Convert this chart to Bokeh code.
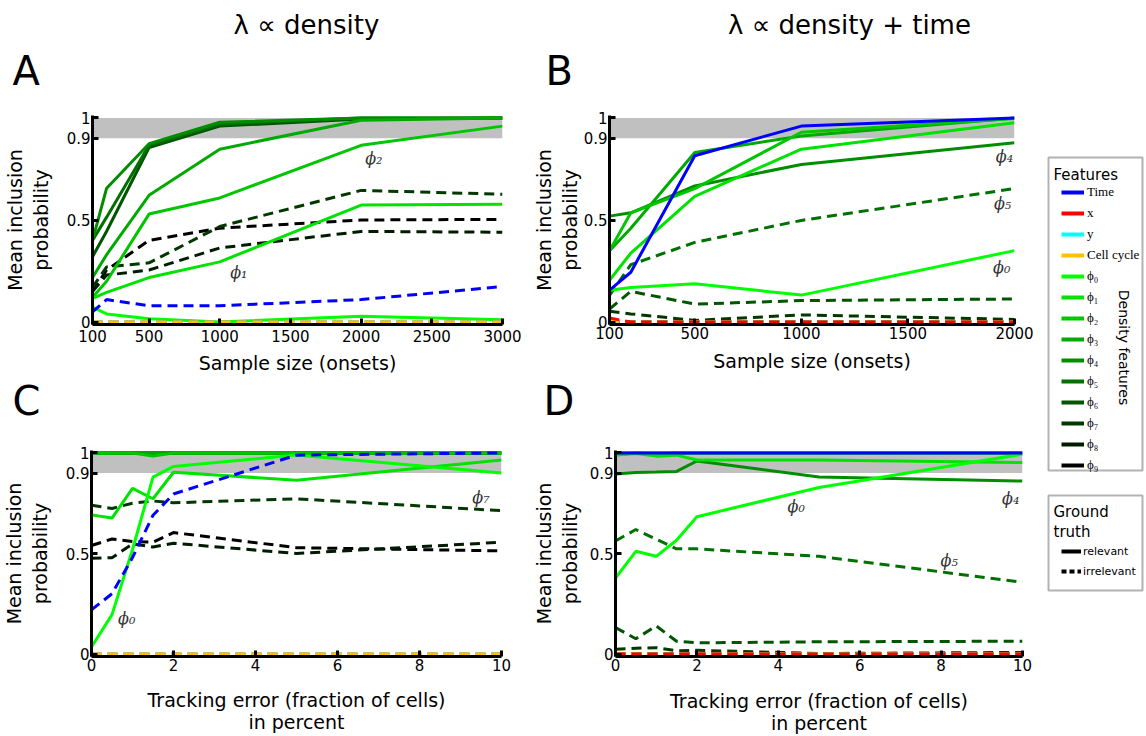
import math
from bokeh.plotting import figure
from bokeh.models import Range1d, FixedTicker, BoxAnnotation, Label, Legend, LegendItem
from bokeh.layouts import row, column
from bokeh.embed import file_html
from bokeh.resources import INLINE

# ---------------- data ----------------
sample_sizes_A = [100, 200, 500, 1000, 2000, 3000]
sample_sizes_B = [100, 200, 500, 1000, 2000]
tracking_error = [0, 0.5, 1, 1.5, 2, 5, 10]

x_ticks_A = [100, 500, 1000, 1500, 2000, 2500, 3000]
x_ticks_B = [100, 500, 1000, 1500, 2000]
x_ticks_CD = [0, 2, 4, 6, 8, 10]
y_ticks = [0, 0.5, 0.9, 1]
y_tick_labels = ["0", "0.5", "0.9", "1"]

feature_keys = ["Time", "x", "y", "cc", "phi0", "phi1", "phi2", "phi3", "phi4",
                "phi5", "phi6", "phi7", "phi8", "phi9"]
feature_labels = ["Time", "x", "y", "Cell cycle", "ϕ₀", "ϕ₁", "ϕ₂", "ϕ₃", "ϕ₄",
                  "ϕ₅", "ϕ₆", "ϕ₇", "ϕ₈", "ϕ₉"]
feature_colors = ["#0000ff", "#ff0000", "#00ffff", "#ffc000", "#00ff00", "#00e300",
                  "#00c600", "#00aa00", "#008e00", "#007100", "#005500", "#003900",
                  "#001c00", "#000000"]

relevant_density = ["phi0", "phi1", "phi2", "phi3", "phi4", "phi5", "phi6"]
relevant_density_time = ["Time", "phi0", "phi1", "phi2", "phi3", "phi4"]

# Panel A: lambda ~ density, vs sample size
A_Time = [0.05, 0.11, 0.08, 0.08, 0.11, 0.174]
A_x = [0, 0, 0, 0, 0, 0]
A_y = [0, 0, 0, 0, 0, 0]
A_cc = [0, 0, 0, 0, 0, 0]
A_phi0 = [0.073, 0.04, 0.016, 0.0, 0.029, 0.011]
A_phi1 = [0.116, 0.145, 0.218, 0.295, 0.573, 0.577]
A_phi2 = [0.121, 0.2, 0.529, 0.608, 0.866, 0.96]
A_phi3 = [0.218, 0.33, 0.621, 0.847, 0.989, 1.0]
A_phi4 = [0.40, 0.656, 0.874, 0.979, 1.0, 1.0]
A_phi5 = [0.40, 0.514, 0.866, 0.97, 1.0, 1.0]
A_phi6 = [0.32, 0.445, 0.855, 0.96, 0.995, 1.0]
A_phi7 = [0.17, 0.27, 0.29, 0.468, 0.645, 0.626]
A_phi8 = [0.15, 0.23, 0.255, 0.363, 0.444, 0.44]
A_phi9 = [0.15, 0.255, 0.40, 0.46, 0.50, 0.503]

# Panel B: lambda ~ density + time, vs sample size
B_Time = [0.156, 0.244, 0.815, 0.96, 1.0]
B_x = [0.02, 0, 0, 0, 0]
B_y = [0, 0, 0, 0, 0]
B_cc = [0.008, 0, 0, 0, 0]
B_phi0 = [0.156, 0.169, 0.188, 0.132, 0.35]
B_phi1 = [0.204, 0.338, 0.616, 0.847, 0.977]
B_phi2 = [0.349, 0.535, 0.654, 0.93, 0.997]
B_phi3 = [0.349, 0.46, 0.831, 0.912, 1.0]
B_phi4 = [0.519, 0.535, 0.667, 0.772, 0.879]
B_phi5 = [0.13, 0.281, 0.39, 0.498, 0.654]
B_phi6 = [0.064, 0.15, 0.088, 0.105, 0.113]
B_phi7 = [0.053, 0.04, 0.008, 0.035, 0.013]
B_phi8 = [0, 0, 0, 0, 0]
B_phi9 = [0, 0, 0, 0, 0]

# Panel C: lambda ~ density, vs tracking error
C_Time = [0.22, 0.30, 0.48, 0.69, 0.796, 0.989, 1.0]
C_x = [0, 0, 0, 0, 0, 0, 0]
C_y = [0, 0, 0, 0, 0, 0, 0]
C_cc = [0, 0, 0, 0, 0, 0, 0]
C_phi0 = [0.035, 0.196, 0.52, 0.88, 0.933, 0.99, 0.9]
C_phi1 = [0.692, 0.676, 0.824, 0.772, 0.904, 0.864, 0.965]
C_phi2 = [1.0, 1.0, 1.0, 0.984, 1.0, 1.0, 1.0]
C_phi3 = [1.0, 1.0, 1.0, 1.0, 1.0, 1.0, 1.0]
C_phi4 = [1.0, 1.0, 1.0, 1.0, 1.0, 1.0, 1.0]
C_phi5 = [1.0, 1.0, 1.0, 1.0, 1.0, 1.0, 1.0]
C_phi6 = [1.0, 1.0, 1.0, 1.0, 1.0, 1.0, 1.0]
C_phi7 = [0.74, 0.724, 0.75, 0.761, 0.752, 0.772, 0.713]
C_phi8 = [0.476, 0.479, 0.548, 0.532, 0.551, 0.5, 0.556]
C_phi9 = [0.54, 0.572, 0.56, 0.556, 0.604, 0.529, 0.513]

# Panel D: lambda ~ density + time, vs tracking error
D_Time = [1.0, 1.0, 1.0, 1.0, 1.0, 1.0, 1.0]
D_x = [0, 0, 0, 0, 0, 0, 0]
D_y = [0, 0, 0, 0, 0, 0, 0]
D_cc = [0, 0, 0, 0, 0, 0, 0]
D_phi0 = [0.378, 0.511, 0.486, 0.566, 0.683, 0.828, 0.994]
D_phi1 = [0.989, 0.997, 0.984, 0.989, 0.965, 0.965, 0.952]
D_phi2 = [0.99, 1.0, 0.995, 1.0, 1.0, 1.0, 1.0]
D_phi3 = [1.0, 1.0, 1.0, 1.0, 1.0, 1.0, 1.0]
D_phi4 = [0.895, 0.903, 0.905, 0.908, 0.96, 0.88, 0.86]
D_phi5 = [0.563, 0.619, 0.571, 0.523, 0.523, 0.486, 0.357]
D_phi6 = [0.132, 0.076, 0.14, 0.064, 0.056, 0.061, 0.064]
D_phi7 = [0.024, 0.029, 0.032, 0.016, 0.019, 0.003, 0.008]
D_phi8 = [0, 0, 0, 0, 0, 0, 0]
D_phi9 = [0, 0, 0, 0, 0, 0, 0]

order_density = ["phi9", "phi8", "phi7", "phi6", "phi5", "phi4", "phi3", "phi2",
                 "phi1", "phi0", "x", "y", "cc", "Time"]
order_density_time = ["phi9", "phi8", "phi7", "phi6", "phi5", "phi4", "phi3", "phi2",
                      "phi1", "phi0", "y", "cc", "x", "Time"]

A_data = dict(zip(feature_keys, [A_Time, A_x, A_y, A_cc, A_phi0, A_phi1, A_phi2, A_phi3,
                                 A_phi4, A_phi5, A_phi6, A_phi7, A_phi8, A_phi9]))
B_data = dict(zip(feature_keys, [B_Time, B_x, B_y, B_cc, B_phi0, B_phi1, B_phi2, B_phi3,
                                 B_phi4, B_phi5, B_phi6, B_phi7, B_phi8, B_phi9]))
C_data = dict(zip(feature_keys, [C_Time, C_x, C_y, C_cc, C_phi0, C_phi1, C_phi2, C_phi3,
                                 C_phi4, C_phi5, C_phi6, C_phi7, C_phi8, C_phi9]))
D_data = dict(zip(feature_keys, [D_Time, D_x, D_y, D_cc, D_phi0, D_phi1, D_phi2, D_phi3,
                                 D_phi4, D_phi5, D_phi6, D_phi7, D_phi8, D_phi9]))
COLORS = dict(zip(feature_keys, feature_colors))

BAND = "#c0c0c0"
SANS = "DejaVu Sans"
SERIF = "DejaVu Serif"
NAN = float("nan")


def make_panel(xs, data, relevant, order, xr, xticks, xlabel, geom, ylab_standoff,
               xtick_standoff, xlab_standoff, xlab_lh):
    w, h, bl, br, bt, bb = geom
    p = figure(width=w, height=h, output_backend="svg", toolbar_location=None,
               x_range=Range1d(*xr), y_range=Range1d(-0.012, 1.012),
               min_border_left=bl, min_border_right=br, min_border_top=bt,
               min_border_bottom=bb)
    p.outline_line_color = None
    p.xgrid.visible = False
    p.ygrid.visible = False
    p.add_layout(BoxAnnotation(bottom=0.9, top=1.0, fill_color=BAND, fill_alpha=1.0,
                               line_color=None, level="underlay"))
    for key in order:
        dash = "solid" if key in relevant else "10 6"
        p.line(xs, data[key], line_color=COLORS[key], line_width=3, line_dash=dash)
    xa = p.xaxis[0]
    ya = p.yaxis[0]
    xa.ticker = FixedTicker(ticks=xticks)
    ya.ticker = FixedTicker(ticks=y_ticks)
    ya.major_label_overrides = dict(zip(y_ticks, y_tick_labels))
    for ax in (xa, ya):
        ax.axis_line_width = 3
        ax.axis_line_color = "black"
        ax.major_tick_in = 6
        ax.major_tick_out = 0
        ax.major_tick_line_width = 3
        ax.minor_tick_line_color = None
        ax.major_label_text_font = SANS
        ax.major_label_text_font_size = "15px"
        ax.major_label_text_color = "black"
        ax.axis_label_text_font = SANS
        ax.axis_label_text_font_size = "19px"
        ax.axis_label_text_font_style = "normal"
        ax.axis_label_text_color = "black"
    ya.axis_label = "Mean inclusion\nprobability"
    ya.axis_label_text_line_height = 1.16
    ya.major_label_standoff = 2
    ya.axis_label_standoff = ylab_standoff
    xa.axis_label = xlabel
    xa.axis_label_text_line_height = xlab_lh
    xa.major_label_standoff = xtick_standoff
    xa.axis_label_standoff = xlab_standoff
    return p


def phi_label(p, x, y, text):
    p.add_layout(Label(x=x, y=y, text=text, text_font=SERIF, text_font_size="16px",
                       text_font_style="italic", text_align="center",
                       text_baseline="middle", text_color="#333333"))


def text_strip(w, h, items):
    """A figure without axes used only to hold free text (titles, panel letters)."""
    s = figure(width=w, height=h, output_backend="svg", toolbar_location=None,
               x_range=Range1d(0, 1), y_range=Range1d(0, 1), x_axis_type=None,
               y_axis_type=None, min_border_left=0, min_border_right=0, min_border_top=0,
               min_border_bottom=0)
    s.outline_line_color = None
    for (x, y_top, txt, size, align) in items:
        s.add_layout(Label(x=x, y=h - y_top, x_units="screen", y_units="screen", text=txt,
                           text_font=SANS, text_font_size=size, text_align=align,
                           text_baseline="middle", text_color="black"))
    return s


# page rows: header 0-100, row1 100-376, mid strip 376-424, row2 424-736
header_top = text_strip(1044, 100, [
    (306, 24, "λ ∝ density", "26px", "center"),
    (849, 24, "λ ∝ density + time", "26px", "center"),
    (12, 70, "A", "40px", "left"),
    (545, 70, "B", "40px", "left"),
])
header_mid = text_strip(1044, 48, [
    (12, 24, "C", "40px", "left"),
    (543, 24, "D", "40px", "left"),
])

geom_A = (530, 276, 92, 28, 12, 52)
geom_B = (514, 276, 77, 30, 15, 49)
geom_C = (530, 312, 91, 29, 21, 78)
geom_D = (514, 312, 82, 22, 26, 74)

pA = make_panel(sample_sizes_A, A_data, relevant_density, order_density, (100, 3000),
                x_ticks_A, "Sample size (onsets)", geom_A, 12, 5, 7, 1.2)
pB = make_panel(sample_sizes_B, B_data, relevant_density_time, order_density_time,
                (100, 2000), x_ticks_B, "Sample size (onsets)", geom_B, 0, 2, 8, 1.2)
pC = make_panel(tracking_error, C_data, relevant_density, order_density, (0, 10),
                x_ticks_CD, "Tracking error (fraction of cells)\nin percent", geom_C, 12, 2,
                15, 1.0)
pD = make_panel(tracking_error, D_data, relevant_density_time, order_density_time,
                (0, 10), x_ticks_CD, "Tracking error (fraction of cells)\nin percent", geom_D,
                6, 2, 16, 1.0)

# curve annotations
phi_label(pA, 2090, 0.80, "ϕ₂")
phi_label(pA, 1135, 0.245, "ϕ₁")
phi_label(pB, 1953, 0.81, "ϕ₄")
phi_label(pB, 1944, 0.583, "ϕ₅")
phi_label(pB, 1940, 0.265, "ϕ₀")
phi_label(pC, 0.86, 0.176, "ϕ₀")
phi_label(pC, 9.5, 0.777, "ϕ₇")
phi_label(pD, 4.44, 0.733, "ϕ₀")
phi_label(pD, 9.71, 0.772, "ϕ₄")
phi_label(pD, 8.2, 0.463, "ϕ₅")

# ---------------- legend column ----------------
pL = figure(width=102, height=736, output_backend="svg", toolbar_location=None,
            x_range=Range1d(0, 1), y_range=Range1d(0, 1), x_axis_type=None,
            y_axis_type=None, min_border_left=0, min_border_right=0, min_border_top=0,
            min_border_bottom=0)
pL.outline_line_color = None

feat_items = []
for key, lab in zip(feature_keys, feature_labels):
    r = pL.line(x=[NAN], y=[NAN], line_color=COLORS[key], line_width=4)
    feat_items.append(LegendItem(label=lab, renderers=[r]))
leg1 = Legend(items=feat_items, location=(17, 263), orientation="vertical",
              glyph_width=23, glyph_height=16, label_height=16, spacing=5, padding=0,
              margin=0, label_standoff=3, label_text_font="Liberation Serif",
              label_text_font_size="13px", label_text_color="black",
              border_line_color=None, background_fill_alpha=0)
pL.add_layout(leg1)

r_rel = pL.line(x=[NAN], y=[NAN], line_color="black", line_width=4)
r_irr = pL.line(x=[NAN], y=[NAN], line_color="black", line_width=4, line_dash="5 3")
leg2 = Legend(items=[LegendItem(label="relevant", renderers=[r_rel]),
                     LegendItem(label="irrelevant", renderers=[r_irr])],
              location=(17, 157), orientation="vertical", glyph_width=20, glyph_height=16,
              label_height=16, spacing=4, padding=0, margin=0, label_standoff=2,
              label_text_font=SANS, label_text_font_size="11px", label_text_color="black",
              border_line_color=None, background_fill_alpha=0)
pL.add_layout(leg2)

for (l, r, b, t) in [(4, 98, 266, 579), (4, 98, 146, 241)]:
    pL.add_layout(BoxAnnotation(left=l, right=r, bottom=b, top=t, left_units="screen",
                                right_units="screen", bottom_units="screen",
                                top_units="screen", fill_alpha=0, line_color="black",
                                line_width=2))

for (x, y, txt, size, ang, al) in [(9, 562, "Features", "15px", 0, "left"),
                                   (79, 389, "Density features", "14px", -math.pi / 2, "center"),
                                   (9, 225, "Ground", "15px", 0, "left"),
                                   (9, 205, "truth", "15px", 0, "left")]:
    pL.add_layout(Label(x=x, y=y, x_units="screen", y_units="screen", text=txt,
                        text_font=SANS, text_font_size=size, angle=ang, text_align=al,
                        text_baseline="middle", text_color="black"))

layout = row(column(header_top, row(pA, pB), header_mid, row(pC, pD)), pL)

with open("out.html", "w") as f:
    f.write(file_html(layout, INLINE))
